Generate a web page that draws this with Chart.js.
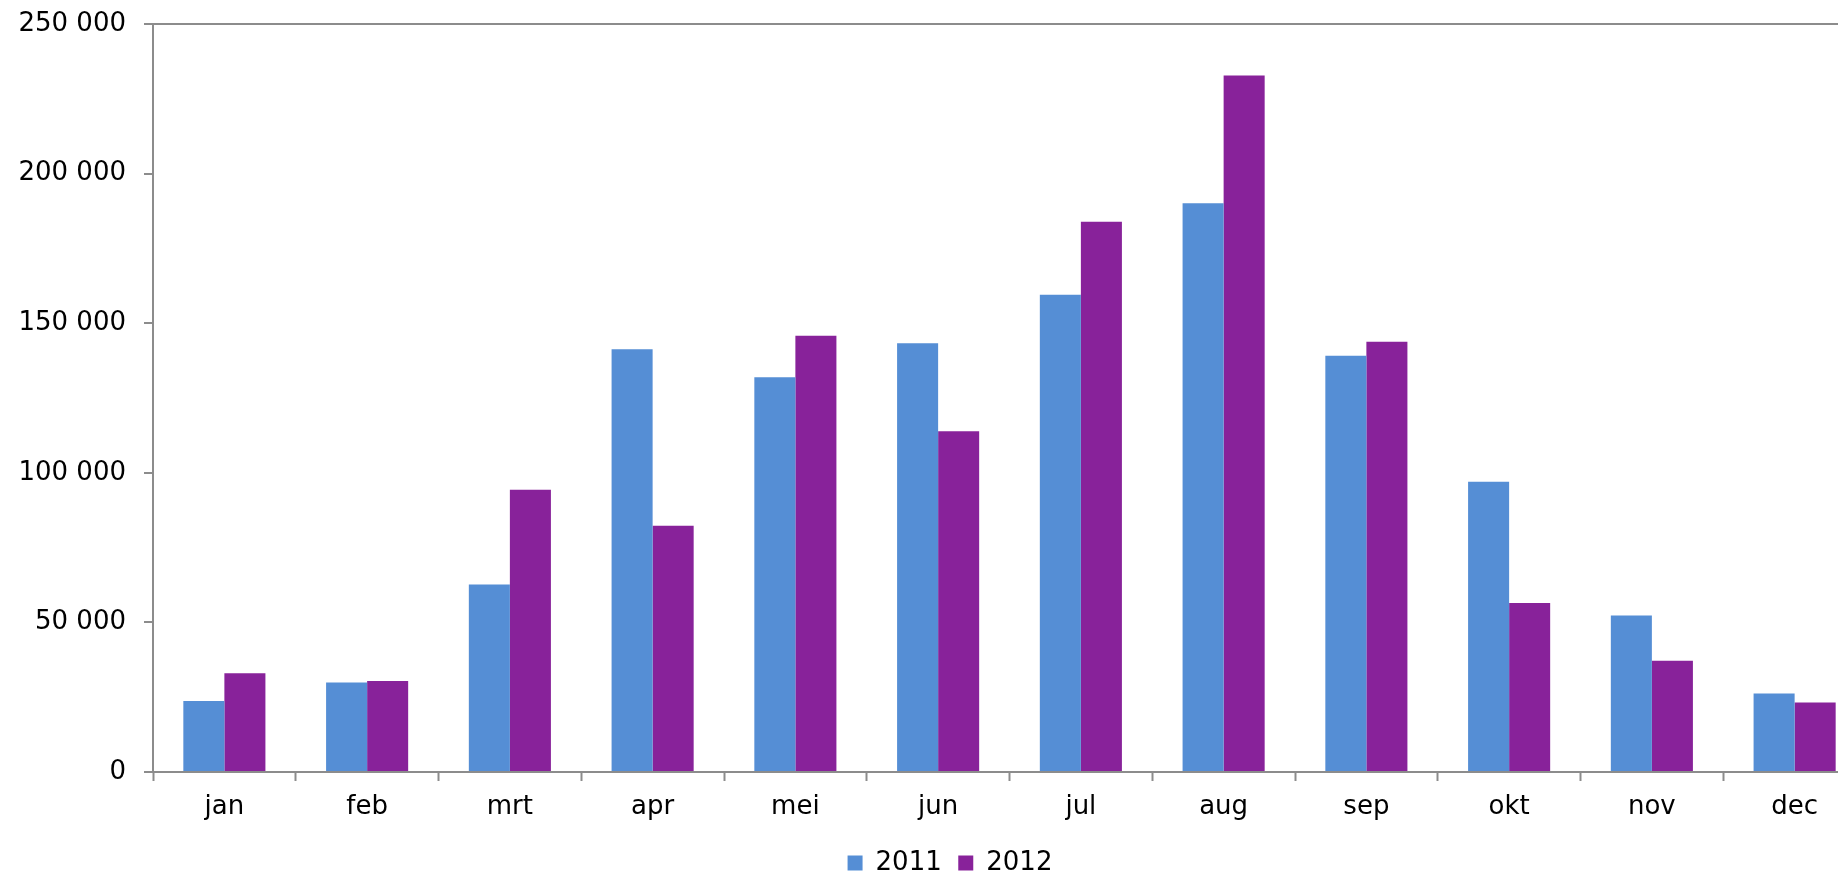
<!DOCTYPE html>
<html>
<head>
<meta charset="utf-8">
<script src="https://cdn.jsdelivr.net/npm/chart.js@4"></script>
<style>
  html, body { margin: 0; padding: 0; background: #fff; overflow: hidden; }
  #wrap { position: absolute; left: 0; top: 0; width: 1900px; height: 874px; }
</style>
</head>
<body>
<div id="wrap"><canvas id="chart"></canvas></div>
<script>
var months = ['jan', 'feb', 'mrt', 'apr', 'mei', 'jun', 'jul', 'aug', 'sep', 'okt', 'nov', 'dec'];
var values_2011 = [23700, 29900, 62700, 141300, 131900, 143300, 159500, 190100, 139100, 97000, 52300, 26200];
var values_2012 = [33000, 30400, 94300, 82300, 145800, 113900, 183900, 232800, 143800, 56500, 37200, 23200];
var series_names = ['2011', '2012'];
var colors = ['#558ed5', '#88229a'];

function spaced(v) {
    return String(v).replace(/\B(?=(\d{3})+(?!\d))/g, ' ');
}

var axis_color = '#8c8c8c';
var font = { family: 'DejaVu Sans', size: 26 };

window.month_chart = new Chart(document.getElementById('chart').getContext('2d'), {
    type: 'bar',
    data: {
        labels: months,
        datasets: [
            { label: series_names[0], data: values_2011, backgroundColor: colors[0], borderWidth: 0 },
            { label: series_names[1], data: values_2012, backgroundColor: colors[1], borderWidth: 0 }
        ]
    },
    options: {
        responsive: true,
        maintainAspectRatio: false,
        animation: false,
        layout: { padding: { top: 24, right: 0, left: 0, bottom: 0 } },
        datasets: {
            bar: { categoryPercentage: 0.575, barPercentage: 1.0 }
        },
        plugins: {
            legend: {
                position: 'bottom',
                maxHeight: 24,
                labels: {
                    font: font,
                    color: '#000',
                    boxWidth: 15,
                    boxHeight: 15,
                    padding: 0,
                    generateLabels: function (chart) {
                        var items = Chart.defaults.plugins.legend.labels.generateLabels(chart);
                        for (var i = 0; i < items.length - 1; i++) {
                            items[i].text = items[i].text + '  ';
                        }
                        return items;
                    }
                }
            },
            tooltip: { enabled: false }
        },
        scales: {
            x: {
                grid: {
                    offset: true,
                    drawOnChartArea: false,
                    tickLength: 9,
                    tickWidth: 2,
                    tickColor: axis_color
                },
                border: { color: axis_color, width: 2 },
                ticks: { font: font, color: '#000', padding: 11 },
                afterFit: function (scale) {
                    scale.height = 78;
                    scale.paddingLeft = 0;
                    scale.paddingRight = 0;
                }
            },
            y: {
                min: 0,
                max: 250000,
                grid: {
                    color: function (ctx) { return ctx.tick && ctx.tick.value === 250000 ? axis_color : 'rgba(0,0,0,0)'; },
                    lineWidth: 2,
                    tickLength: 9,
                    tickWidth: 2,
                    tickColor: axis_color
                },
                border: { color: axis_color, width: 2 },
                ticks: {
                    stepSize: 50000,
                    font: font,
                    color: '#000',
                    padding: 18,
                    callback: function (v) { return spaced(v); }
                },
                afterFit: function (scale) {
                    scale.width = 153;
                    scale.paddingTop = 0;
                    scale.paddingBottom = 0;
                }
            },
            // empty strip on the right, the plot runs past the visible edge
            y_pad: {
                position: 'right',
                grid: { display: false },
                border: { display: false },
                ticks: { display: false },
                afterFit: function (scale) { scale.width = 34; }
            }
        }
    }
});
</script>
</body>
</html>
